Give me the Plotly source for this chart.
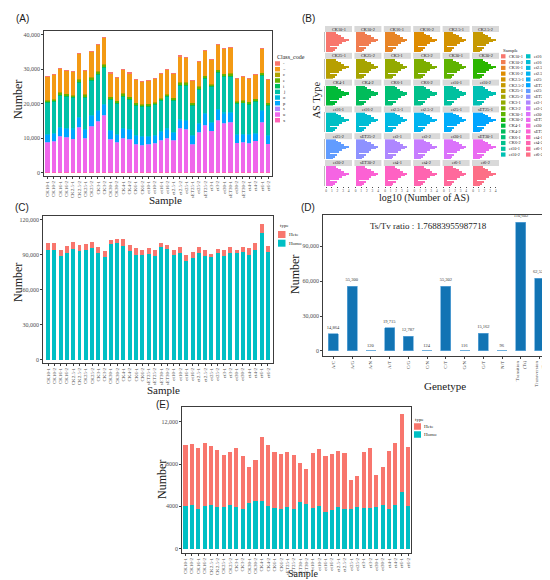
import math
import plotly.graph_objects as go

# Figure canvas (px); panels are laid out by pixel box, converted to paper coords
W, H = 550, 580
SERIF = "Liberation Serif"
SANS = "Liberation Sans"
FRAME = "#3C3C3C"
TICKTXT = "#4D4D4D"

# ---------------------------------------------------------------- data
# (A) transcript class codes per sample
SAMPLES_A = ["CK10-1", "CK10-2", "CK16-1", "CK16-2", "CK2.5-1", "CK2.5-2", "CK25-1", "CK25-2",
             "CK3-1", "CK3-2", "CK30-1", "CK30-2", "CK4-1", "CK4-2", "CK6-1", "CK6-2",
             "et10-1", "et10-2", "et16-1", "et16-2", "et2.5-1", "et2.5-2", "et25-1", "sET25-1",
             "et25-2", "sET25-2", "et3-1", "et3-2", "et30-1", "sET30-1", "et30-2", "sET30-2",
             "et4-1", "et4-2", "et6-1", "et6-2"]
CLASS_CODES = ["-", "=", "c", "e", "i", "j", "o", "p", "s", "u", "x"]
A_DASH = [30, 30, 30, 30, 30, 40, 30, 40, 40, 40, 30, 30, 30, 30, 30, 30, 30, 30,
          30, 30, 30, 40, 40, 30, 40, 40, 40, 40, 40, 40, 30, 30, 30, 30, 40, 30]
A_EQ = [6700, 7000, 7000, 6800, 6800, 7500, 6900, 7500, 7800, 7700, 6800, 6700, 6900, 6800, 6700, 6700, 6700, 6700,
        7000, 7100, 6900, 7600, 7100, 6500, 7200, 7300, 7200, 7400, 7300, 7300, 6500, 6800, 6600, 6900, 7000, 6800]
A_C = [40, 40, 50, 50, 40, 60, 40, 60, 60, 70, 40, 40, 50, 40, 40, 40, 40, 40,
       40, 50, 40, 50, 50, 40, 50, 60, 50, 60, 60, 60, 40, 40, 40, 40, 60, 40]
A_E = [600, 620, 640, 620, 610, 680, 620, 690, 720, 740, 610, 600, 630, 610, 590, 580, 590, 600,
       610, 630, 610, 660, 660, 590, 650, 690, 650, 720, 700, 700, 590, 600, 590, 600, 700, 590]
A_I = [120, 120, 130, 130, 130, 150, 130, 150, 160, 170, 130, 120, 130, 130, 110, 110, 110, 120,
       120, 130, 120, 140, 140, 110, 140, 150, 140, 160, 150, 160, 110, 120, 110, 120, 160, 110]
A_J = [9000, 9100, 9100, 9300, 8900, 9900, 9100, 10100, 10200, 10500, 8900, 8800, 9200, 8600, 8700, 8500, 8700, 8800,
       8900, 9200, 9300, 9900, 10100, 8700, 9700, 10000, 10100, 10500, 10300, 10300, 8800, 8900, 8700, 9100, 9900, 8700]
A_O = [150, 150, 170, 160, 160, 190, 160, 200, 210, 220, 160, 150, 160, 160, 140, 140, 140, 140,
       150, 160, 150, 180, 180, 140, 170, 190, 180, 210, 200, 200, 140, 150, 140, 150, 200, 140]
A_P = [2200, 2200, 2500, 2300, 2800, 2900, 2700, 3000, 3000, 3100, 2600, 2300, 2800, 2800, 2400, 2400, 2200, 2200,
       2400, 2700, 2200, 2400, 2400, 2400, 2600, 3200, 2400, 3000, 2900, 2800, 2300, 2200, 2400, 2200, 3300, 2300]
A_S = [60, 60, 70, 70, 60, 80, 60, 80, 90, 90, 60, 60, 60, 60, 50, 50, 50, 60,
       60, 60, 60, 70, 70, 50, 70, 80, 70, 90, 80, 80, 50, 60, 50, 60, 80, 50]
A_U = [8700, 8900, 10400, 10100, 9600, 12850, 9700, 13150, 14600, 16300, 9400, 8600, 9800, 9500, 8130, 7840, 8030, 8330,
       9210, 9700, 9110, 12550, 12350, 8130, 11470, 13530, 11860, 14800, 14020, 14310, 8530, 8720, 8430, 9020, 14310, 8230]
A_X = [180, 190, 210, 200, 200, 260, 190, 270, 300, 320, 190, 180, 200, 190, 170, 160, 170, 170,
       190, 200, 190, 250, 250, 170, 230, 270, 240, 300, 280, 290, 170, 180, 170, 180, 290, 170]

# (B) log10 number of AS events per type (same profile read in every facet)
AS_TYPES = ["AE", "IR", "MIR", "MSKIP", "SKIP", "TSS", "TTS", "XAE", "XIR", "XMIR", "XMSKIP", "XSKIP"]
AS_LOG10 = [1.2, 1.5, 1.9, 0.6, 2.3, 2.8, 3.6, 4.0, 3.2, 2.7, 2.1, 1.7]

# (C) and (E) sample order
SAMPLES_CE = ["CK10-1", "CK10-2", "CK16-1", "CK16-2", "CK2.5-1", "CK2.5-2", "CK25-1", "CK25-2",
              "CK3-1", "CK3-2", "CK30-1", "CK30-2", "CK4-1", "CK4-2", "CK6-1", "CK6-2",
              "sET25-1", "sET25-2", "sET30-1", "sET30-2", "et10-1", "et10-2", "et16-1", "et16-2",
              "et2.5-1", "et2.5-2", "et25-1", "et25-2", "et3-1", "et3-2", "et30-1", "et30-2",
              "et4-1", "et4-2", "et6-1", "et6-2"]
C_HOMO = [93700, 94300, 88900, 91100, 94900, 92900, 94000, 96000, 91700, 88000, 98900, 99700,
          97400, 92900, 90000, 89400, 90900, 89100, 96600, 94900, 89400, 91700, 84300, 86900,
          91400, 89100, 87700, 91400, 88600, 91400, 91400, 92600, 89700, 94000, 108600, 92300]
C_HETE = [6000, 5700, 5100, 6000, 6000, 5100, 4900, 4900, 5200, 5400, 3400, 3700,
          6000, 5400, 5400, 4900, 4800, 4600, 3400, 3100, 4300, 5200, 5400, 5400,
          5200, 4900, 2600, 3200, 5100, 5500, 2300, 3700, 5700, 5700, 7400, 5100]

# (D) SNP substitution types
D_CATS = ["A/C", "A/G", "A/N", "A/T", "C/G", "C/N", "C/T", "G/N", "G/T", "N/T",
          "Transition<br>(Ts)", "Transversion<br>(Tv)"]
D_VALS = [14864, 55300, 120, 19715, 12787, 124, 55302, 116, 15162, 96, 110602, 62528]

# (E)
E_HOMO = [4060, 4130, 3780, 4000, 4130, 3940, 3970, 4130, 3940, 3750, 4350, 4500,
          4500, 4000, 3840, 3720, 3900, 3780, 4410, 4220, 3840, 4000, 3460, 3620,
          3900, 3750, 3750, 3940, 3810, 3870, 3940, 4100, 3750, 4160, 5350, 4030]
E_HETE = [5740, 5730, 5730, 5980, 5570, 5380, 4880, 5040, 5540, 4970, 3400, 3880,
          6050, 5760, 5330, 5220, 5230, 5070, 3650, 3280, 5200, 5450, 5300, 5360,
          5300, 5290, 2770, 2890, 5360, 5640, 2990, 3650, 5450, 5820, 7350, 5610]


def fx(p):
    return p / W


def fy(p):
    return 1 - p / H


def hue_pal(n, l=65, c=100):
    """ggplot2 default hue palette (HCL -> sRGB)."""
    xn, yn, zn = 95.047, 100.0, 108.883
    un = 4 * xn / (xn + 15 * yn + 3 * zn)
    vn = 9 * yn / (xn + 15 * yn + 3 * zn)
    out = []
    for i in range(n):
        h = math.radians(15 + 360 * i / n)
        u, v = c * math.cos(h), c * math.sin(h)
        Y = yn * ((l + 16) / 116) ** 3
        up = u / (13 * l) + un
        vp = v / (13 * l) + vn
        X = Y * 9 * up / (4 * vp)
        Z = Y * (12 - 3 * up - 20 * vp) / (4 * vp)
        X, Y, Z = X / 100, Y / 100, Z / 100
        rgb = [3.240479 * X - 1.537150 * Y - 0.498535 * Z,
               -0.969256 * X + 1.875992 * Y + 0.041556 * Z,
               0.055648 * X - 0.204043 * Y + 1.057311 * Z]
        res = []
        for ch in rgb:
            ch = 12.92 * ch if ch <= 0.0031308 else 1.055 * ch ** (1 / 2.4) - 0.055
            res.append(int(round(min(max(ch, 0), 1) * 255)))
        out.append("#%02X%02X%02X" % tuple(res))
    return out


HETE_COL, HOMO_COL = hue_pal(2)
CLASS_COLS = hue_pal(len(CLASS_CODES))
CLASS_COLS[1] = "#F39A14"   # the '=' band reads as a brighter orange in the original
SAMPLE_COLS = hue_pal(len(SAMPLES_A))
D_COL = "#1274B4"

fig = go.Figure()
annotations = []
shapes = []
axes = {}


def ann(text, x, y, size, family=SERIF, color="#1A1A1A", xanchor="center", angle=0):
    annotations.append(dict(text=text, x=fx(x), y=fy(y), xref="paper", yref="paper",
                            showarrow=False, xanchor=xanchor, yanchor="middle", textangle=angle,
                            font=dict(family=family, size=size, color=color)))


def legend(title, x, y_title, y_first, step, labels, colors, sw, sh, size, title_size):
    if title:
        ann(title, x - 0.5, y_title, title_size, xanchor="left")
    for i, (lab, col) in enumerate(zip(labels, colors)):
        yc = y_first + i * step
        shapes.append(dict(type="rect", xref="paper", yref="paper", x0=fx(x), x1=fx(x + sw),
                           y0=fy(yc + sh / 2), y1=fy(yc - sh / 2), fillcolor=col, line=dict(width=0)))
        ann(lab, x + sw + 1.2, yc, size, xanchor="left")


def frame_axes(k, box, xrange, yrange, yvals, ytext, xfont=5, yfont=6):
    x0, y0, x1, y1 = box
    common = dict(showline=True, mirror=True, linecolor=FRAME, linewidth=0.8, ticks="outside",
                  ticklen=2, tickwidth=0.6, tickcolor=FRAME, showgrid=False, zeroline=False)
    axes[f"xaxis{k}"] = dict(domain=[fx(x0), fx(x1)], anchor=f"y{k}", type="category", range=xrange,
                             tickangle=-90, tickfont=dict(family=SERIF, size=xfont, color=TICKTXT), **common)
    axes[f"yaxis{k}"] = dict(domain=[fy(y1), fy(y0)], anchor=f"x{k}", range=yrange, tickvals=yvals,
                             ticktext=ytext, tickfont=dict(family=SERIF, size=yfont, color=TICKTXT), **common)


# ---------------------------------------------------------------- (A)
a_series = [A_X, A_U, A_S, A_P, A_O, A_J, A_I, A_E, A_C, A_EQ, A_DASH]   # bottom -> top
for code, vals in zip(reversed(CLASS_CODES), a_series):
    col = CLASS_COLS[CLASS_CODES.index(code)]
    fig.add_trace(go.Bar(x=SAMPLES_A, y=vals, name=code, marker=dict(color=col, line=dict(width=0)),
                         width=0.68, xaxis="x1", yaxis="y1", showlegend=False))
frame_axes(1, (36, 23, 264, 168), [-0.55, 35.6], [-950, 41070],
           [0, 10000, 20000, 30000, 40000], ["0", "10,000", "20,000", "30,000", "40,000"])
legend("Class_code", 267, 48.5, 55.5, 5.67, CLASS_CODES, CLASS_COLS, 5, 4.5, 4.5, 6)
ann("(A)", 14, 10, 10, SANS)
ann("Number", 10, 92, 12, angle=-90)
ann("Sample", 157, 192, 11)

# ---------------------------------------------------------------- (C)
fig.add_trace(go.Bar(x=SAMPLES_CE, y=C_HOMO, name="Homo", marker=dict(color=HOMO_COL, line=dict(width=0)),
                     width=0.62, xaxis="x2", yaxis="y2", showlegend=False))
fig.add_trace(go.Bar(x=SAMPLES_CE, y=C_HETE, name="Hete", marker=dict(color=HETE_COL, line=dict(width=0)),
                     width=0.62, xaxis="x2", yaxis="y2", showlegend=False))
frame_axes(2, (35, 208, 265, 355), [-0.8, 35.8], [-2800, 123200],
           [0, 30000, 60000, 90000, 120000], ["0", "30,000", "60,000", "90,000", "120,000"])
ann("type", 270, 218, 5, xanchor="left")
legend(None, 270, 0, 226.5, 8.7, ["Hete", "Homo"], [HETE_COL, HOMO_COL], 7.5, 7, 5, 5)
ann("(C)", 14, 199, 10, SANS)
ann("Number", 10, 275, 12, angle=-90)
ann("Sample", 155, 382, 11)

# ---------------------------------------------------------------- (D)
fig.add_trace(go.Bar(x=D_CATS, y=D_VALS, marker=dict(color=D_COL, line=dict(color="#62A8DA", width=0.7)),
                     width=0.53, text=[f"{v:,}" for v in D_VALS], textposition="outside",
                     constraintext="none", cliponaxis=False,
                     textfont=dict(family=SERIF, size=4.5, color="#333333"),
                     xaxis="x3", yaxis="y3", showlegend=False))
frame_axes(3, (315, 207, 542, 348), [-0.55, 11.55], [-4300, 116600],
           [0, 30000, 60000, 90000], ["0", "30,000", "60,000", "90,000"])
ratio = D_VALS[10] / D_VALS[11]
ann(f"Ts/Tv ratio : {ratio:.15g}", 420, 218.5, 9)
ann("(D)", 300, 199, 10, SANS)
ann("Number", 287, 267, 12, angle=-90)
ann("Genetype", 437, 377.5, 11)

# ---------------------------------------------------------------- (E)
fig.add_trace(go.Bar(x=SAMPLES_CE, y=E_HOMO, name="Homo", marker=dict(color=HOMO_COL, line=dict(width=0)),
                     width=0.65, xaxis="x4", yaxis="y4", showlegend=False))
fig.add_trace(go.Bar(x=SAMPLES_CE, y=E_HETE, name="Hete", marker=dict(color=HETE_COL, line=dict(width=0)),
                     width=0.65, xaxis="x4", yaxis="y4", showlegend=False))
frame_axes(4, (174, 399, 403, 545), [-0.55, 35.45], [-410, 13400],
           [0, 4000, 8000, 12000], ["0", "4000", "8000", "12,000"])
ann("type", 405, 411.5, 5, xanchor="left")
legend(None, 406, 0, 418.5, 8, ["Hete", "Homo"], [HETE_COL, HOMO_COL], 7, 6.5, 5, 5)
ann("(E)", 154, 396, 10, SANS)
ann("Number", 154, 472, 12, angle=-90)
ann("Sample", 295, 565.5, 10)

# ---------------------------------------------------------------- (B) facets
for i, (sample, col) in enumerate(zip(SAMPLES_A, SAMPLE_COLS)):
    k = 5 + i
    r, c = divmod(i, 6)
    left = 317 + 29.4 * c
    right = left + 27
    strip_top = 18 + 26.8 * r
    panel_top = strip_top + 6
    panel_bot = strip_top + 26
    fig.add_trace(go.Bar(x=AS_LOG10, y=AS_TYPES, orientation="h", width=0.9,
                         marker=dict(color=col, line=dict(width=0)),
                         xaxis=f"x{k}", yaxis=f"y{k}", showlegend=False))
    bottom = r == 5
    axes[f"xaxis{k}"] = dict(domain=[fx(left), fx(right)], anchor=f"y{k}", range=[-0.22, 4.6],
                             tickvals=[0, 1, 2, 3, 4], showticklabels=bottom,
                             ticks="outside" if bottom else "", ticklen=1, tickwidth=0.4, tickcolor=TICKTXT,
                             tickfont=dict(family=SERIF, size=3.5, color=TICKTXT),
                             showgrid=False, zeroline=False, showline=False)
    axes[f"yaxis{k}"] = dict(domain=[fy(panel_bot), fy(panel_top)], anchor=f"x{k}", type="category",
                             range=[-0.6, 11.6], showticklabels=False, showgrid=False,
                             zeroline=False, showline=(c == 0), linecolor="#BDBDBD", linewidth=0.5)
    shapes.append(dict(type="rect", xref="paper", yref="paper", x0=fx(left), x1=fx(right),
                       y0=fy(panel_top), y1=fy(strip_top), fillcolor="#D9D9D9", line=dict(width=0)))
    ann(sample, (left + right) / 2, (strip_top + panel_top) / 2, 4.3)

legend("Sample", 493, 43, 48.3, 5.78, SAMPLES_A[:18], SAMPLE_COLS[:18], 4.5, 4.2, 4.3, 5)
legend(None, 518, 0, 48.3, 5.78, SAMPLES_A[18:], SAMPLE_COLS[18:], 4.5, 4.2, 4.3, 5)
ann("(B)", 300, 10, 10, SANS)
ann("AS Type", 308.5, 92, 10.5, angle=-90)
ann("log10 (Number of AS)", 416, 189.5, 10)

# ---------------------------------------------------------------- layout
axes["xaxis"] = axes.pop("xaxis1")
axes["yaxis"] = axes.pop("yaxis1")
axes["xaxis"]["anchor"] = "y"
axes["yaxis"]["anchor"] = "x"
for tr in fig.data:
    if tr.xaxis == "x1":
        tr.xaxis, tr.yaxis = "x", "y"

fig.update_layout(
    width=W, height=H,
    margin=dict(l=0, r=0, t=0, b=0),
    paper_bgcolor="white", plot_bgcolor="white",
    barmode="stack",
    showlegend=False,
    annotations=annotations,
    shapes=shapes,
    font=dict(family=SERIF, color="#1A1A1A"),
    **axes,
)

fig.write_html("out.html")
